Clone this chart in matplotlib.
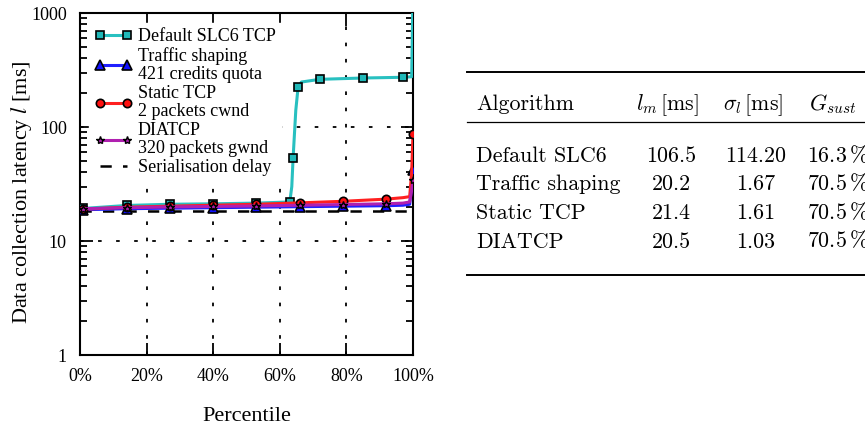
import matplotlib
matplotlib.use("Agg")
import matplotlib.pyplot as plt
from matplotlib.ticker import FixedLocator, LogLocator, NullFormatter, FuncFormatter

# --- data ------------------------------------------------------------------
pct_default = [0, 1, 14, 27, 40, 53, 63, 63.6, 64, 64.8, 65.5, 66.5, 72, 85, 97, 99.6, 100]
lat_default = [19, 19.3, 20.5, 21, 21.2, 21.5, 22, 30, 54, 140, 224, 248, 262, 269, 273, 276, 1500]
marks_default = [1, 2, 3, 4, 5, 6, 8, 10, 12, 13, 14]

pct_other = [0, 1, 14, 27, 40, 53, 66, 79, 92, 97, 99, 99.6, 100]
lat_traffic = [18.6, 18.8, 19.2, 19.4, 19.6, 19.8, 20, 20.2, 20.4, 20.6, 21, 30, 42]
lat_static = [18.8, 19, 19.8, 20.2, 20.6, 21, 21.6, 22.3, 23.3, 24, 24.5, 40, 87]
lat_diatcp = [19, 19.2, 19.6, 19.9, 20.1, 20.3, 20.6, 20.9, 21.2, 21.5, 22, 28, 34]
marks_other = [1, 2, 3, 4, 5, 6, 7, 8, 12]

serialisation = 18.2

# table
algorithms = ["Default SLC6", "Traffic shaping", "Static TCP", "DIATCP"]
lm = ["106.5", "20.2", "21.4", "20.5"]
sigma = ["114.20", "1.67", "1.61", "1.03"]
gsust = ["16.3", "70.5", "70.5", "70.5"]

W, H = 865, 426
plt.rcParams["font.family"] = ["Liberation Serif", "DejaVu Serif"]
plt.rcParams["font.size"] = 13
fig = plt.figure(figsize=(W / 100, H / 100), dpi=100)

ax = fig.add_axes([80 / W, 1 - 355 / H, 333 / W, 342 / H])
ax.set_yscale("log")
ax.set_xlim(0, 100)
ax.set_ylim(1, 1000)

# grid (gnuplot style dotted)
for gx in [20, 40, 60, 80]:
    ax.axvline(gx, color="black", lw=1.3, ls=(0, (2, 7)), zorder=0.5)
for gy in [10, 100]:
    ax.axhline(gy, color="black", lw=1.3, ls=(0, (2, 8)), zorder=0.5)

ax.plot([0, 100], [serialisation, serialisation], color="black", lw=1.8,
        ls=(0, (4.5, 4.5)), label="Serialisation delay", zorder=2)

ax.plot(pct_default, lat_default, color="#28c0c0", lw=2.2, marker="s", ms=6,
        mfc="#20b8b8", mec="black", mew=1.2, markevery=marks_default,
        label="Default SLC6 TCP", zorder=3)
ax.plot(pct_other, lat_traffic, color="#2020ff", lw=2.2, marker="^", ms=6.5,
        mfc="#1010ff", mec="black", mew=1.2, markevery=marks_other,
        label="Traffic shaping\n421 credits quota", zorder=3)
ax.plot(pct_other, lat_static, color="#ff2020", lw=2.2, marker="o", ms=6,
        mfc="#ff1010", mec="black", mew=1.2, markevery=marks_other,
        label="Static TCP\n2 packets cwnd", zorder=3)
ax.plot(pct_other, lat_diatcp, color="#b020b0", lw=2.2, marker="*", ms=6,
        mfc="#b020b0", mec="black", mew=1.0, markevery=marks_other,
        label="DIATCP\n320 packets gwnd", zorder=3)

ax.xaxis.set_major_locator(FixedLocator([0, 20, 40, 60, 80, 100]))
ax.xaxis.set_major_formatter(FuncFormatter(lambda v, p: "%d%%" % v))
ax.yaxis.set_major_locator(FixedLocator([1, 10, 100, 1000]))
ax.yaxis.set_major_formatter(FuncFormatter(lambda v, p: "%d" % v))
ax.yaxis.set_minor_locator(LogLocator(base=10, subs=range(2, 10)))
ax.yaxis.set_minor_formatter(NullFormatter())
ax.tick_params(which="both", direction="in", top=True, right=True, width=1.3)
ax.tick_params(which="major", length=9, pad=9.5)
ax.tick_params(which="minor", length=5)
for s in ax.spines.values():
    s.set_linewidth(1.5)

ax.set_xlabel("Percentile", fontsize=16)
ax.xaxis.set_label_coords(0.5, -0.152)
ax.set_ylabel("Data collection latency $l$ [ms]", math_fontfamily="stix", fontsize=16)
ax.yaxis.set_label_coords(-0.137, 0.477)

handles, labels = ax.get_legend_handles_labels()
order = [1, 2, 3, 4, 0]
leg = ax.legend([handles[i] for i in order], [labels[i] for i in order],
                loc="upper left", bbox_to_anchor=(0.027, 0.972), numpoints=2,
                handlelength=2.1, handletextpad=0.31, labelspacing=0.1,
                borderaxespad=0, borderpad=0.3,
                frameon=True, fancybox=False, framealpha=1, edgecolor="white",
                facecolor="white")
for t in leg.get_texts():
    t.set_linespacing(1.1)
leg.set_zorder(4)

# --- table ------------------------------------------------------------------
tab = fig.add_axes([0, 0, 1, 1])
tab.set_xlim(0, W)
tab.set_ylim(H, 0)
tab.axis("off")

fs = 15.8
tab.plot([467, W], [72, 72], color="black", lw=1.4)
tab.plot([467, W], [121.5, 121.5], color="black", lw=0.9)
tab.plot([467, W], [275, 275], color="black", lw=1.4)

tab.text(476, 110, "Algorithm", family="cmr10", fontsize=fs, va="baseline")
tab.text(668, 110, r"$l_m\,[\mathrm{ms}]$", math_fontfamily="cm", fontsize=fs,
         ha="center", va="baseline")
tab.text(753, 110, r"$\sigma_l\,[\mathrm{ms}]$", math_fontfamily="cm", fontsize=fs,
         ha="center", va="baseline")
tab.text(809, 110, r"$G_{sust}$", math_fontfamily="cm", fontsize=fs, va="baseline")

row_y = [162, 190.5, 219, 247.5]
for i, name in enumerate(algorithms):
    y = row_y[i]
    tab.text(476, y, name, family="cmr10", fontsize=fs, va="baseline")
    tab.text(671, y, lm[i], family="cmr10", fontsize=fs, ha="center", va="baseline")
    tab.text(756, y, sigma[i], family="cmr10", fontsize=fs, ha="center", va="baseline")
    tab.text(807, y, r"$%s\,\%%$" % gsust[i], math_fontfamily="cm", fontsize=fs,
             va="baseline")

fig.savefig("out.png", dpi=100)
